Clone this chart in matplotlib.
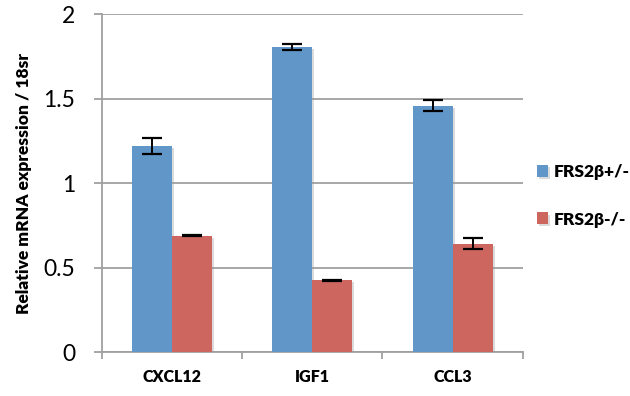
import numpy as np
import matplotlib
matplotlib.use("Agg")
import matplotlib.pyplot as plt
import matplotlib.patheffects as pe

# data
genes = ["CXCL12", "IGF1", "CCL3"]
het_vals = [1.22, 1.803, 1.457]
het_err = [0.048, 0.018, 0.032]
ko_vals = [0.688, 0.424, 0.641]
ko_err = [0.004, 0.003, 0.032]
series_names = ["FRS2\u03b2+/-", "FRS2\u03b2-/-"]
yticks = [0, 0.5, 1, 1.5, 2]
ytick_labels = ["0", "0.5", "1", "1.5", "2"]

plt.rcParams["font.family"] = ["Lato", "DejaVu Sans"]

fig = plt.figure(figsize=(6.3, 3.96), dpi=100)
ax = fig.add_axes([0.1614, 0.111, 0.6683, 0.8536])

x = np.arange(len(genes))
w = 0.285
shadow = [pe.SimplePatchShadow(offset=(1.5, -1.5), shadow_rgbFace="#999999", alpha=0.35), pe.Normal()]
err_kw = dict(ecolor="black", elinewidth=1.4, capsize=7.5, capthick=1.6)

b1 = ax.bar(x - w / 2, het_vals, w, yerr=het_err, color="#6196C9", label=series_names[0],
            error_kw=err_kw, zorder=3)
b2 = ax.bar(x + w / 2, ko_vals, w, yerr=ko_err, color="#CE6660", label=series_names[1],
            error_kw=err_kw, zorder=3)
for b in list(b1) + list(b2):
    b.set_path_effects(shadow)

ax.set_xlim(-0.5, len(genes) - 0.5)
ax.set_ylim(0, 2)
ax.set_yticks(yticks)
ax.set_yticklabels(ytick_labels, fontsize=16.5, color="black")
ax.yaxis.grid(True, color="#A0A0A0", linewidth=1.3, zorder=0)
ax.set_axisbelow(True)

# category separators as bottom ticks, labels centered in between
ax.set_xticks(np.arange(len(genes) + 1) - 0.5)
ax.set_xticklabels([])
ax.set_xticks(x, minor=True)
ax.set_xticklabels(genes, minor=True, fontsize=11.5, fontweight="heavy")
ax.tick_params(axis="x", which="minor", length=0, pad=12)
ax.tick_params(axis="x", which="major", length=5, width=1.3, color="#A0A0A0")
ax.tick_params(axis="y", length=6, width=1.3, color="#A0A0A0", pad=13)

for s in ["top", "right"]:
    ax.spines[s].set_visible(False)
for s in ["left", "bottom"]:
    ax.spines[s].set_color("#A0A0A0")
    ax.spines[s].set_linewidth(1.3)

ax.set_ylabel("Relative mRNA expression / 18sr", fontsize=12.5, fontweight="heavy", labelpad=8)

leg = ax.legend(loc="center left", bbox_to_anchor=(1.0, 0.462), frameon=False,
                prop={"weight": "heavy", "size": 12.5}, handlelength=0.68, handleheight=0.68,
                handletextpad=0.28, labelspacing=1.8, borderaxespad=0.4)

fig.savefig("out.png", dpi=100)
